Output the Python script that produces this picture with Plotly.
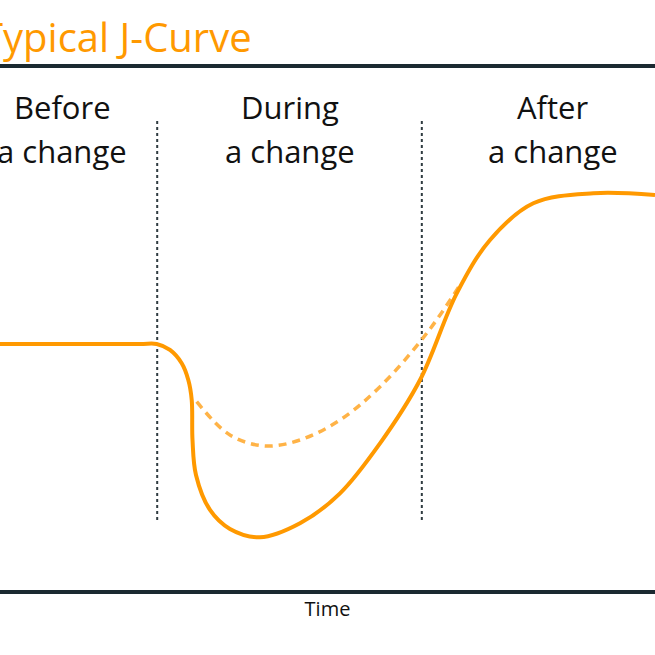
import plotly.graph_objects as go

# Data (time 0-100, performance 0-100)
solid_t = [0, 21.37, 23.92, 25.95, 27.74, 28.75, 29.27, 29.39, 29.92, 32.06, 35.11, 39.69,
           45.80, 51.91, 58.02, 64.12, 69.73, 74.81, 81.42, 90.58, 100]
solid_v = [47.13, 47.13, 47.13, 45.98, 43.43, 40.23, 36.40, 28.74, 22.03, 15.33, 11.69, 10.10,
           12.78, 18.52, 28.10, 40.23, 56.84, 67.05, 74.08, 76.00, 75.67]

dash_t = [30.03, 35.11, 40.46, 45.80, 51.91, 58.02, 65.15, 70.23]
dash_v = [36.07, 29.69, 27.59, 28.74, 32.57, 38.95, 49.18, 58.43]

phase_bounds = [24.0, 64.4]
phase_line_v = [13.4, 90.0]
phase_centers = [9.5, 44.3, 84.4]
labels_top = ["Before", "During", "After"]
labels_bottom = ["a change", "a change", "a change"]
title_text = "Typical J-Curve"
x_title = "Time"

ORANGE = "#FF9900"
DARK = "#1B2A31"
FONT = "Open Sans"

fig = go.Figure()

for xb in phase_bounds:
    fig.add_trace(go.Scatter(x=[xb, xb], y=phase_line_v, mode="lines",
                             line=dict(color="#2F3B40", width=2, dash="dot"),
                             hoverinfo="skip", showlegend=False))

fig.add_trace(go.Scatter(x=dash_t, y=dash_v, mode="lines",
                         line=dict(color="#FFB347", width=3.5, dash="8px,6px", shape="spline",
                                   smoothing=1.0, simplify=False),
                         showlegend=False))
fig.add_trace(go.Scatter(x=solid_t, y=solid_v, mode="lines",
                         line=dict(color=ORANGE, width=4, shape="spline", smoothing=1.0, simplify=False),
                         showlegend=False))

fig.update_layout(
    width=655, height=655,
    margin=dict(l=0, r=0, t=68, b=65),
    paper_bgcolor="white", plot_bgcolor="white",
    xaxis=dict(range=[0, 100], showgrid=False, zeroline=False, showticklabels=False, ticks="",
               showline=True, mirror=True, linecolor=DARK, linewidth=4,
               title=dict(text=x_title, font=dict(family=FONT, size=20, color="#111111"), standoff=10)),
    yaxis=dict(range=[0, 100], showgrid=False, zeroline=False, showticklabels=False, ticks="",
               showline=False),
)

ann = []
for c, t1, t2 in zip(phase_centers, labels_top, labels_bottom):
    ann.append(dict(x=c, y=88.1, xref="x", yref="y", yanchor="bottom", text=t1,
                    showarrow=False, font=dict(family=FONT, size=31, color="#111111")))
    ann.append(dict(x=c, y=79.7, xref="x", yref="y", yanchor="bottom", text=t2,
                    showarrow=False, font=dict(family=FONT, size=31, color="#111111")))
ann.append(dict(x=254 / 655, y=1.0, xref="paper", yref="paper", text=title_text, showarrow=False,
                xanchor="right", yanchor="bottom", yshift=2,
                font=dict(family=FONT, size=40, color=ORANGE)))
fig.update_layout(annotations=ann)

fig.write_html("out.html", config={"displayModeBar": False},
               post_script="document.body.style.margin='0px';document.body.style.overflow='hidden';")
